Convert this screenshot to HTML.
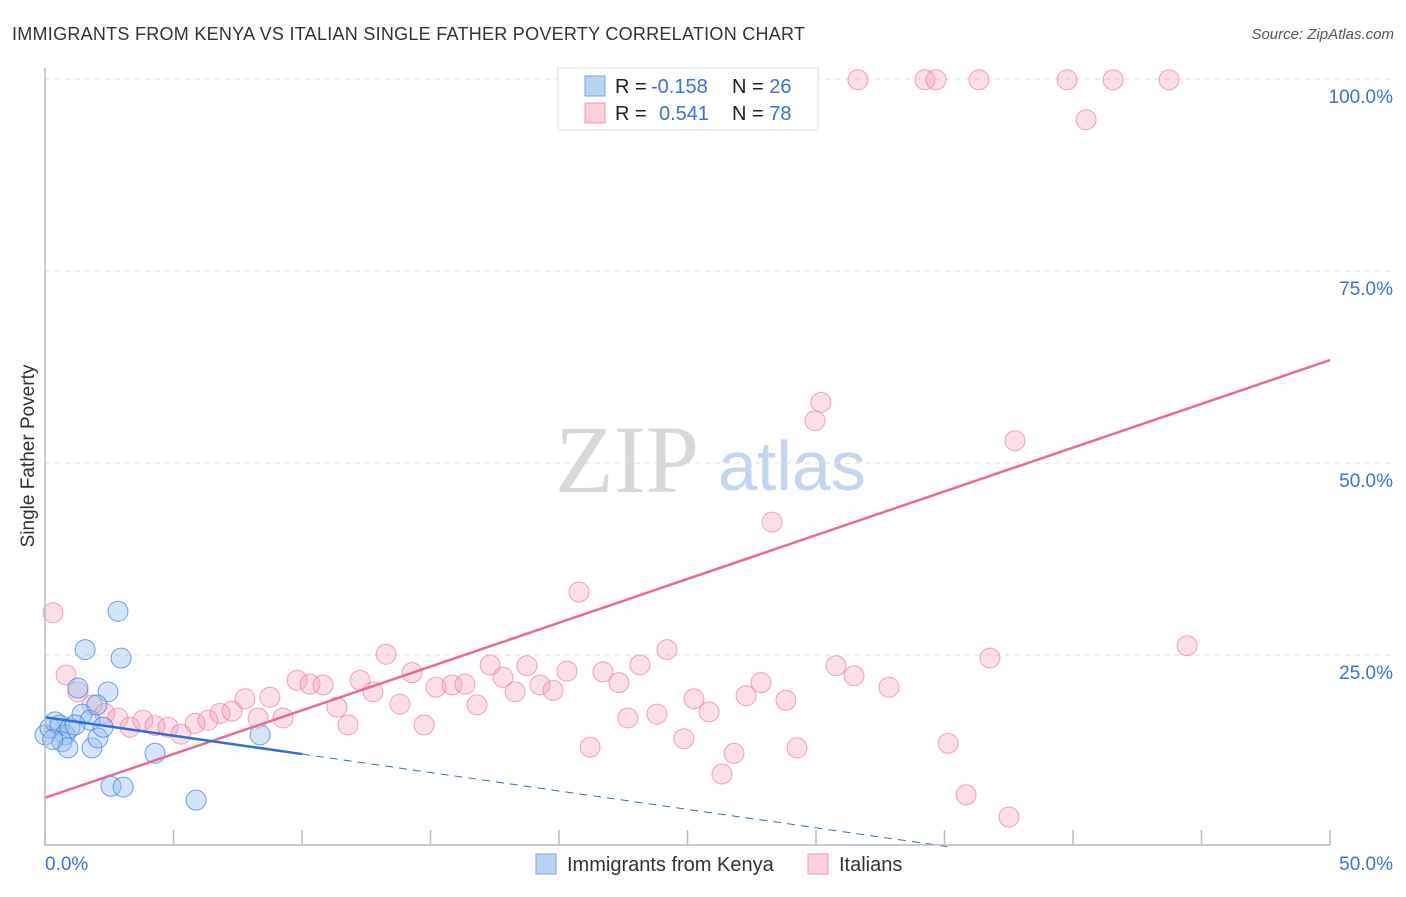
<!DOCTYPE html>
<html><head><meta charset="utf-8"><style>
body{margin:0;background:#fff;font-family:"Liberation Sans",sans-serif}
</style></head><body>
<svg width="1406" height="892" xmlns="http://www.w3.org/2000/svg" id="c">
<text x="12" y="40" font-size="18" fill="#333" textLength="793">IMMIGRANTS FROM KENYA VS ITALIAN SINGLE FATHER POVERTY CORRELATION CHART</text>
<text x="1394" y="39" font-size="15" fill="#555" font-style="italic" text-anchor="end">Source: ZipAtlas.com</text>
<text x="34" y="456" font-size="19" fill="#333" text-anchor="middle" transform="rotate(-90 34 456)">Single Father Poverty</text>
<text x="555" y="492" font-size="96" fill="#d8d8d8" font-family="Liberation Serif,serif">ZIP</text>
<text x="718" y="490" font-size="70" fill="#c4d6ef">atlas</text>
<g id="grid"></g><g id="pts"></g><g id="lines"></g>
<line x1="45" y1="68" x2="45" y2="846" stroke="#bbb" stroke-width="1.5"/>
<line x1="45" y1="845" x2="1330" y2="845" stroke="#bbb" stroke-width="1.5"/>
<text x="45" y="870" font-size="19" fill="#3b73d1">0.0%</text>
<text x="1393" y="870" font-size="19" fill="#3b73d1" text-anchor="end">50.0%</text>
<g>
<rect x="558" y="68" width="260" height="62" fill="#fff" stroke="#ddd"/>
<rect x="585" y="76" width="20" height="20" fill="#b9d3f5" stroke="#7aa6e6"/>
<rect x="585" y="103" width="20" height="20" fill="#fbd0dc" stroke="#ee9ab3"/>
<text x="615" y="93" font-size="20" fill="#222">R = <tspan x="651" fill="#3b73d1">-0.158</tspan><tspan x="732">N = </tspan><tspan fill="#3b73d1">26</tspan></text>
<text x="615" y="120" font-size="20" fill="#222">R = <tspan x="659" fill="#3b73d1">0.541</tspan><tspan x="732">N = </tspan><tspan fill="#3b73d1">78</tspan></text>
</g>
<g><rect x="536" y="854" width="20" height="20" fill="#b9d3f5" stroke="#7aa6e6"/><text x="567" y="871" font-size="20" fill="#333">Immigrants from Kenya</text></g>
<g><rect x="808" y="854" width="20" height="20" fill="#fbd0dc" stroke="#ee9ab3"/><text x="839" y="871" font-size="20" fill="#333">Italians</text></g>
</svg>
<script>
const yTicks=[25,50,75,100];
const yTickLabels=["25.0%","50.0%","75.0%","100.0%"];
const xTicks=[0,5,10,15,20,25,30,35,40,45,50];
const kenyaX=[0,0.19,0.39,0.58,0.78,0.97,0.66,0.89,1.28,1.56,1.83,2.06,1.44,1.75,2.26,2.45,2.02,2.84,2.96,2.57,3.04,4.28,5.88,8.37,1.17,0.3];
const kenyaY=[14.6,15.5,16.3,15.9,14.6,15.5,13.7,12.9,20.7,25.7,12.9,14.2,17.3,16.5,15.6,20.2,18.5,30.7,24.6,7.9,7.8,12.2,6.1,14.6,15.9,14.0];
const italX=[0.31,0.82,1.28,1.83,2.33,2.84,3.31,3.81,4.28,4.79,5.29,5.84,6.34,6.81,7.28,7.78,8.29,8.75,9.26,9.81,10.31,10.82,11.36,11.79,12.26,12.76,13.27,13.81,14.28,14.75,15.21,15.84,16.34,16.81,17.32,17.82,18.29,18.75,19.26,19.77,20.31,20.78,21.21,21.71,22.33,22.68,23.15,23.81,24.2,24.86,25.25,25.84,26.34,26.81,27.28,27.86,28.29,28.83,29.26,29.96,30.19,30.78,31.48,31.63,32.84,34.24,34.67,35.14,35.84,36.34,36.77,37.51,37.74,39.77,40.51,41.56,43.74,44.44];
const italY=[30.5,22.4,20.2,18.5,17.4,16.8,15.6,16.5,15.8,15.6,14.7,16.1,16.5,17.4,17.7,19.3,16.8,19.5,16.8,21.7,21.2,21.1,18.2,15.9,21.7,20.2,25.1,18.6,22.7,15.9,20.8,21.1,21.2,18.5,23.7,22.1,20.2,23.6,21.1,20.4,22.9,33.2,13.0,22.8,21.4,16.8,23.7,17.3,25.7,14.1,19.3,17.6,9.5,12.2,19.7,21.4,42.3,19.1,12.9,55.5,57.9,23.6,22.3,99.9,20.8,99.9,99.9,13.5,6.8,99.9,24.6,3.9,52.9,99.9,94.7,99.9,99.9,26.2];
const kenyaTrend=[16.9,-0.48]; // intercept, slope
const italTrend=[6.4,1.14];
const NS="http://www.w3.org/2000/svg";
const sx=v=>45+v*25.7, sy=v=>847-v*7.68;
function mk(t,a,p){const e=document.createElementNS(NS,t);for(const k in a)e.setAttribute(k,a[k]);p.appendChild(e);return e;}
const grid=document.getElementById('grid'),pts=document.getElementById('pts'),lines=document.getElementById('lines'),svg=document.getElementById('c');
yTicks.forEach((v,i)=>{
 const l=mk('line',{x1:45,x2:1395,y1:sy(v),y2:sy(v),stroke:'#ddd','stroke-dasharray':'5,5'},grid);
 
 
 const t=mk('text',{x:1393,y:sy(v)+24,'font-size':19,fill:'#3b73d1','text-anchor':'end'},svg);
 t.textContent=yTickLabels[i];
 
 
});
xTicks.forEach(v=>{
 const l=mk('line',{x1:sx(v),x2:sx(v),y1:830,y2:845,stroke:'#bbb','stroke-width':1.5},grid);
 
 
});
italX.forEach((x,i)=>{
 const c=mk('circle',{cx:sx(x),cy:sy(italY[i]),r:10,fill:'rgba(244,160,185,0.35)',stroke:'rgba(230,130,160,0.7)','stroke-width':1},pts);
 
 
});
kenyaX.forEach((x,i)=>{
 const c=mk('circle',{cx:sx(x),cy:sy(kenyaY[i]),r:10,fill:'rgba(150,190,240,0.4)',stroke:'rgba(70,130,215,0.75)','stroke-width':1},pts);
 
 
});
const it=mk('line',{x1:sx(0),y1:sy(italTrend[0]),x2:sx(50),y2:sy(italTrend[0]+italTrend[1]*50),stroke:'#e8689a','stroke-width':2.5},lines);


const ks=mk('line',{x1:sx(0),y1:sy(kenyaTrend[0]),x2:sx(10),y2:sy(kenyaTrend[0]+kenyaTrend[1]*10),stroke:'#2f6fd6','stroke-width':2.5},lines);


const xe=-kenyaTrend[0]/kenyaTrend[1];
const kd=mk('line',{x1:sx(10),y1:sy(kenyaTrend[0]+kenyaTrend[1]*10),x2:sx(xe),y2:sy(0),stroke:'#2f6fd6','stroke-width':1,'stroke-dasharray':'8,6'},lines);


</script>
</body></html>
